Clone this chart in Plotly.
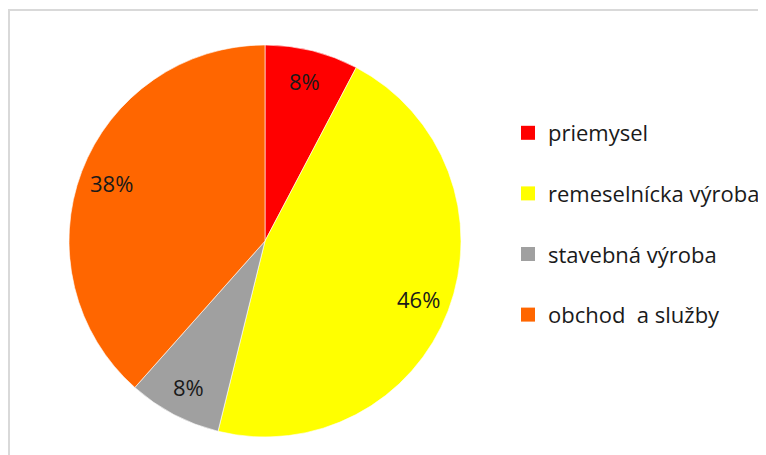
import math
import plotly.graph_objects as go

labels = ["priemysel", "remeselnícka výroba", "stavebná výroba", "obchod  a služby"]
values = [7.7, 46.1, 7.7, 38.4]
colors = ["#FF0000", "#FFFF00", "#A0A0A0", "#FF6600"]

W, H = 766, 455
# pie geometry (page has an 8px body offset)
CX, CY, R = 257, 233, 196
LABEL_R = 0.84

fig = go.Figure()
fig.add_trace(go.Pie(
    labels=labels, values=values, sort=False, direction="clockwise", rotation=0,
    marker=dict(colors=colors, line=dict(color="rgba(255,255,255,0.6)", width=1)),
    textinfo="none",
    domain=dict(x=[(CX - R) / W, (CX + R) / W], y=[1 - (CY + R) / H, 1 - (CY - R) / H]),
    showlegend=False, hoverinfo="label+percent",
))

# percentage labels placed along each slice's mid-angle
total = sum(values)
annotations = []
cum = 0.0
for v in values:
    mid = (cum + v / 2) / total * 2 * math.pi
    cum += v
    px = CX + LABEL_R * R * math.sin(mid)
    py = CY - LABEL_R * R * math.cos(mid)
    annotations.append(dict(
        x=px / W, y=1 - py / H, xref="paper", yref="paper", showarrow=False,
        xanchor="center", yanchor="middle",
        text=f"{round(v / total * 100)}%",
        font=dict(family="Open Sans", size=22, color="#1a1a1a"),
    ))

for lab, col in zip(labels, colors):
    fig.add_trace(go.Scatter(
        x=[None], y=[None], mode="markers", name=lab, legendgroup=lab,
        marker=dict(symbol="square", size=14, color=col), showlegend=True,
    ))

fig.update_layout(
    width=W, height=H, margin=dict(l=0, r=0, t=0, b=0),
    paper_bgcolor="white", plot_bgcolor="white",
    xaxis=dict(visible=False, domain=[0.99, 1]), yaxis=dict(visible=False, domain=[0.99, 1]),
    legend=dict(x=500 / W, y=1 - 104 / H, xanchor="left", yanchor="top",
                font=dict(family="Open Sans", size=22, color="#1a1a1a"),
                tracegroupgap=29, bgcolor="rgba(0,0,0,0)", itemwidth=30),
    annotations=annotations,
    shapes=[dict(type="rect", xref="paper", yref="paper",
                 x0=1 / W, x1=1.02, y0=-0.02, y1=1 - 2 / H,
                 line=dict(color="#D9D9D9", width=2), fillcolor="rgba(0,0,0,0)", layer="below")],
)
fig.write_html("out.html")
